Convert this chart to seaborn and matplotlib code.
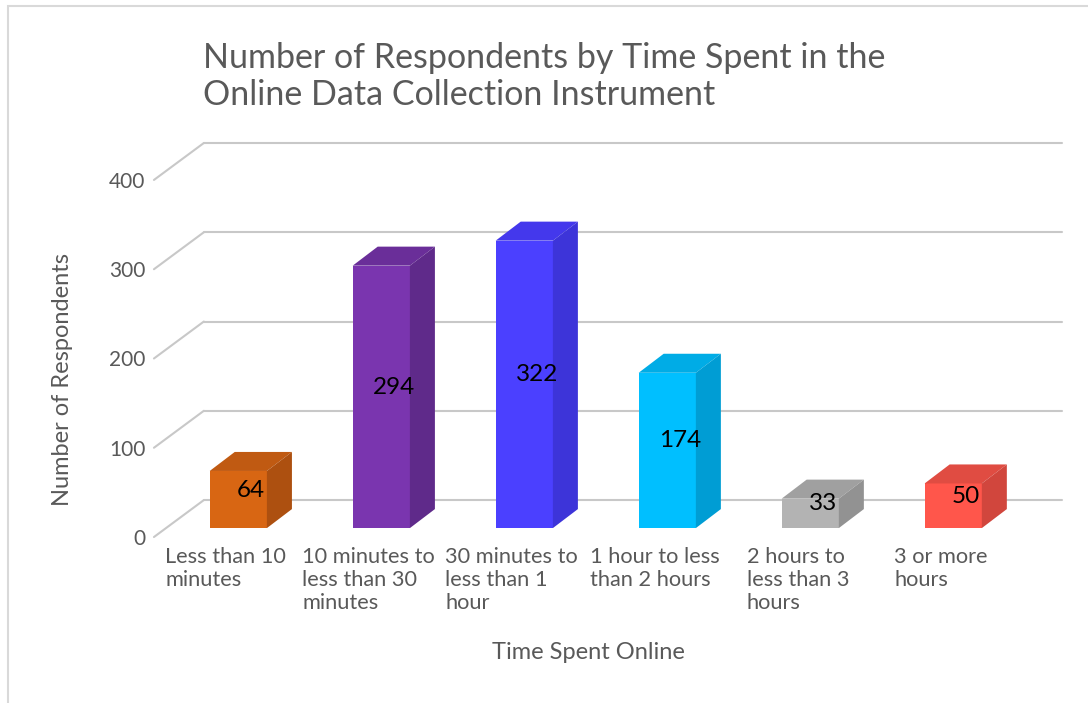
import numpy as np
import pandas as pd
import matplotlib
matplotlib.use("Agg")
import matplotlib.pyplot as plt
import seaborn as sns
from matplotlib.patches import Polygon, Rectangle

# Data
categories = ["Less than 10\nminutes", "10 minutes to\nless than 30\nminutes",
              "30 minutes to\nless than 1\nhour", "1 hour to less\nthan 2 hours",
              "2 hours to\nless than 3\nhours", "3 or more\nhours"]
respondents = [64, 294, 322, 174, 33, 50]
y_ticks = [0, 100, 200, 300, 400]

front_colors = ["#D86613", "#7A35AF", "#4B40FF", "#00BFFF", "#B3B3B3", "#FF564B"]
side_colors = ["#AD5010", "#5F2A8A", "#3D34D9", "#009DD4", "#929292", "#D1463D"]
top_colors = ["#C05A12", "#6A2E99", "#4438EC", "#00ACE6", "#A0A0A0", "#E04C42"]

text_grey = "#595959"
grid_grey = "#C8C8C8"

sns.set_theme(style="white")
plt.rcParams['font.family'] = ['Lato', 'DejaVu Sans']

df = pd.DataFrame({"cat": categories, "n": respondents})

fig = plt.figure(figsize=(10.88, 7.03), dpi=100)
ax = fig.add_axes([0.1415, 0.2361, 0.8345, 0.5605])

sns.barplot(data=df, x="cat", y="n", hue="cat", palette=front_colors, saturation=1,
            width=0.4, legend=False, ax=ax, zorder=3, linewidth=0)

# pseudo-3D geometry (data units)
bar_dx, bar_dy = 0.175, 21.3          # depth of each box
front_dx, front_dy = -0.087, -10      # floor front edge relative to bar face
back_dx, back_dy = 0.262, 31.4        # back wall relative to bar face
x_left = -0.59
x_right = 5.76

# walls / gridlines
for v in y_ticks:
    ax.plot([x_left, x_left + (back_dx - front_dx)], [v + front_dy, v + back_dy],
            color=grid_grey, lw=1.5, zorder=1, clip_on=False)
    ax.plot([x_left + (back_dx - front_dx), x_right], [v + back_dy, v + back_dy],
            color=grid_grey, lw=1.5, zorder=1, clip_on=False)

# top and side faces of each bar
for i, p in enumerate(ax.patches):
    x0, w, h = p.get_x(), p.get_width(), p.get_height()
    x1 = x0 + w
    top = Polygon([(x0, h), (x1, h), (x1 + bar_dx, h + bar_dy), (x0 + bar_dx, h + bar_dy)],
                  closed=True, facecolor=top_colors[i], edgecolor="none", zorder=3)
    side = Polygon([(x1, 0), (x1 + bar_dx, bar_dy), (x1 + bar_dx, h + bar_dy), (x1, h)],
                   closed=True, facecolor=side_colors[i], edgecolor="none", zorder=3)
    ax.add_patch(top)
    ax.add_patch(side)
    ax.text(x0 + w / 2 + bar_dx / 2, h / 2 + bar_dy / 2, str(respondents[i]),
            ha="center", va="center", fontsize=17.5, color="black", zorder=5)

ax.set_xlim(x_left, x_right)
ax.set_ylim(-10, 431.4)

ax.set_yticks([v + front_dy for v in y_ticks])
ax.set_yticklabels([str(v) for v in y_ticks], color=text_grey, fontsize=15)
ax.set_xticks(np.arange(len(categories)) + front_dx)
ax.set_xticklabels(categories, color=text_grey, fontsize=15.7,
                   ha="center", multialignment="left", linespacing=1.2)
ax.tick_params(axis="both", length=0)
ax.tick_params(axis="x", pad=7)
ax.tick_params(axis="y", pad=6)

for s in ax.spines.values():
    s.set_visible(False)

ax.set_xlabel("")
ax.set_ylabel("")
fig.text(0.0579, 0.4595, "Number of Respondents", rotation=90, ha="center", va="center",
         fontsize=17, color=text_grey)
fig.text(0.5404, 0.0725, "Time Spent Online", ha="center", va="center",
         fontsize=17, color=text_grey)
fig.text(0.1866, 0.891, "Number of Respondents by Time Spent in the\nOnline Data Collection Instrument",
         ha="left", va="center", fontsize=24.5, color=text_grey, linespacing=1.22)

# chart border
fig.patches.append(Rectangle((8 / 1088, -0.01), 1.05, 1.01 - 6 / 703,
                             transform=fig.transFigure, fill=False,
                             edgecolor="#D9D9D9", lw=1.5))

fig.savefig("out.png", dpi=100)
